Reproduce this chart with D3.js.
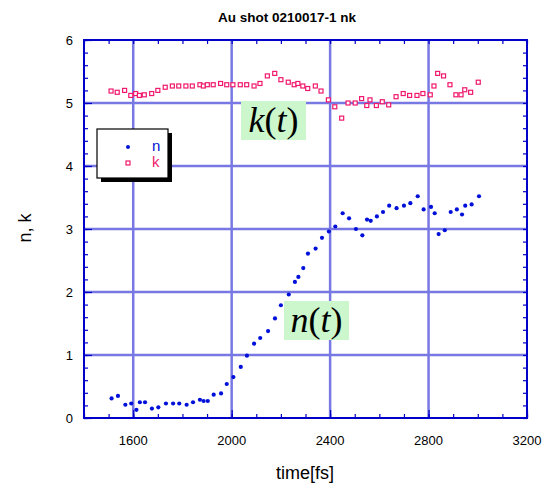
<!DOCTYPE html>
<html>
<head>
<meta charset="utf-8">
<script src="https://cdn.jsdelivr.net/npm/d3@7"></script>
<style>
    body { margin: 0; background: white; }
    text { font-family: "Liberation Sans", Arial, sans-serif; }
</style>
</head>
<body>
<div id="chart"></div>
<script>
// n(t) readings
let nTime = [1512, 1538, 1568, 1592, 1613, 1627, 1648, 1676, 1702, 1733, 1762, 1787, 1817, 1843, 1871, 1886, 1903, 1927, 1957, 1980,
    2007, 2037, 2062, 2091, 2116, 2148, 2176, 2200, 2232, 2257, 2271, 2291, 2310, 2341, 2367, 2395, 2421, 2451, 2477, 2505,
    2531, 2550, 2565, 2590, 2615, 2640, 2670, 2700, 2726, 2756, 2780, 2810, 2825, 2841, 2866, 2890, 2915, 2936, 2949, 2975, 3005];
let nValue = [0.31, 0.35, 0.21, 0.23, 0.13, 0.25, 0.25, 0.15, 0.17, 0.23, 0.23, 0.23, 0.21, 0.25, 0.29, 0.27, 0.27, 0.37, 0.39, 0.54,
    0.65, 0.81, 0.99, 1.18, 1.27, 1.38, 1.58, 1.79, 1.96, 2.16, 2.24, 2.38, 2.61, 2.69, 2.86, 2.96, 3.04, 3.25, 3.17, 3.00,
    2.90, 3.15, 3.13, 3.20, 3.27, 3.37, 3.33, 3.37, 3.41, 3.52, 3.31, 3.35, 3.25, 2.92, 2.98, 3.27, 3.31, 3.23, 3.37, 3.39, 3.52];

// k(t) readings
let kTime = [1510, 1535, 1565, 1590, 1610, 1625, 1645, 1675, 1700, 1730, 1759, 1785, 1814, 1840, 1871, 1885, 1901, 1925, 1955, 1980,
    2005, 2035, 2061, 2091, 2115, 2145, 2175, 2200, 2230, 2254, 2269, 2289, 2309, 2340, 2363, 2393, 2419, 2447, 2473, 2502,
    2528, 2549, 2562, 2588, 2612, 2638, 2668, 2697, 2723, 2753, 2777, 2807, 2822, 2837, 2861, 2887, 2911, 2932, 2947, 2971, 3002];
let kValue = [5.19, 5.17, 5.20, 5.12, 5.15, 5.12, 5.13, 5.15, 5.20, 5.25, 5.27, 5.27, 5.27, 5.27, 5.29, 5.27, 5.29, 5.29, 5.31, 5.29,
    5.29, 5.29, 5.29, 5.27, 5.31, 5.43, 5.47, 5.37, 5.33, 5.29, 5.31, 5.27, 5.23, 5.27, 5.19, 5.05, 4.94, 4.76, 5.00, 5.00,
    5.07, 4.96, 5.05, 4.96, 5.02, 4.97, 5.10, 5.15, 5.12, 5.12, 5.15, 5.13, 5.27, 5.47, 5.43, 5.29, 5.13, 5.13, 5.21, 5.17, 5.33];

let xTicks = [1600, 2000, 2400, 2800, 3200];
let yTicks = [0, 1, 2, 3, 4, 5, 6];
let xGrid = [1600, 2000, 2400, 2800];
let yGrid = [1, 2, 3, 4, 5];
let seriesNames = ["n", "k"];

let frameColor = "#0000c8";
let gridColor = "#7878e4";
let nColor = "#0010d8";
let kColor = "#f0186c";

let svg = d3.select("#chart").append("svg")
    .attr("width", 549)
    .attr("height", 484);

let x = d3.scaleLinear().domain([1400, 3200]).range([84, 527]);
let y = d3.scaleLinear().domain([0, 6]).range([418, 40]);

// grid
svg.selectAll(".vgrid")
    .data(xGrid)
    .enter()
    .append("line")
    .attr("x1", d => x(d)).attr("x2", d => x(d))
    .attr("y1", y(6)).attr("y2", y(0))
    .attr("stroke", gridColor)
    .attr("stroke-width", 2.5);

svg.selectAll(".hgrid")
    .data(yGrid)
    .enter()
    .append("line")
    .attr("x1", x(1400)).attr("x2", x(3200))
    .attr("y1", d => y(d)).attr("y2", d => y(d))
    .attr("stroke", gridColor)
    .attr("stroke-width", 2.5);

// ticks, inside on all four sides
let xMinor = d3.range(1400, 3201, 100);
let yMinor = d3.range(0, 6.001, 0.2);

svg.append("g")
    .attr("transform", "translate(0," + y(0) + ")")
    .call(d3.axisTop(x).tickValues(xMinor).tickSize(4).tickFormat(""))
    .call(g => g.select(".domain").remove());
svg.append("g")
    .attr("transform", "translate(0," + y(0) + ")")
    .call(d3.axisTop(x).tickValues(xTicks).tickSize(8).tickFormat(""))
    .call(g => g.select(".domain").remove());
svg.append("g")
    .attr("transform", "translate(0," + y(6) + ")")
    .call(d3.axisBottom(x).tickValues(xMinor).tickSize(4).tickFormat(""))
    .call(g => g.select(".domain").remove());
svg.append("g")
    .attr("transform", "translate(" + x(1400) + ",0)")
    .call(d3.axisRight(y).tickValues(yMinor).tickSize(4).tickFormat(""))
    .call(g => g.select(".domain").remove());
svg.append("g")
    .attr("transform", "translate(" + x(1400) + ",0)")
    .call(d3.axisRight(y).tickValues(yTicks).tickSize(8).tickFormat(""))
    .call(g => g.select(".domain").remove());
svg.append("g")
    .attr("transform", "translate(" + x(3200) + ",0)")
    .call(d3.axisLeft(y).tickValues(yMinor).tickSize(4).tickFormat(""))
    .call(g => g.select(".domain").remove());
svg.selectAll(".tick line").attr("stroke", frameColor).attr("stroke-width", 1.2);

// frame
svg.append("rect")
    .attr("x", x(1400)).attr("y", y(6))
    .attr("width", x(3200) - x(1400))
    .attr("height", y(0) - y(6))
    .attr("fill", "none")
    .attr("stroke", frameColor)
    .attr("stroke-width", 2);

// tick labels
svg.selectAll(".xlab")
    .data(xTicks)
    .enter()
    .append("text")
    .attr("x", d => x(d))
    .attr("y", 445)
    .attr("text-anchor", "middle")
    .attr("font-size", 13)
    .text(d => d);

svg.selectAll(".ylab")
    .data(yTicks)
    .enter()
    .append("text")
    .attr("x", 73)
    .attr("y", d => y(d) + 5)
    .attr("text-anchor", "end")
    .attr("font-size", 13)
    .text(d => d);

// axis titles
svg.append("text")
    .attr("x", 305).attr("y", 479)
    .attr("text-anchor", "middle")
    .attr("font-size", 18)
    .text("time[fs]");

svg.append("text")
    .attr("transform", "translate(31,228) rotate(-90)")
    .attr("text-anchor", "middle")
    .attr("font-size", 18)
    .text("n, k");

svg.append("text")
    .attr("x", 287).attr("y", 22)
    .attr("text-anchor", "middle")
    .attr("font-size", 13.5)
    .attr("font-weight", "bold")
    .text("Au shot 0210017-1 nk");

// annotation boxes
function mathLabel(x0, y0, w, h, letter) {
    svg.append("rect")
        .attr("x", x0).attr("y", y0)
        .attr("width", w).attr("height", h)
        .attr("fill", "#ccf7cc");
    let t = svg.append("text")
        .attr("x", x0 + w / 2).attr("y", y0 + h - 8)
        .attr("text-anchor", "middle")
        .attr("font-size", 36)
        .style("font-family", "'Liberation Serif', 'Times New Roman', serif");
    t.append("tspan").attr("font-style", "italic").text(letter);
    t.append("tspan").text("(");
    t.append("tspan").attr("font-style", "italic").text("t");
    t.append("tspan").text(")");
}
mathLabel(241, 101, 65, 39, "k");
mathLabel(284, 301, 65, 39, "n");

// data
svg.selectAll(".kpt")
    .data(kTime)
    .enter()
    .append("rect")
    .attr("x", (d, i) => x(d) - 2)
    .attr("y", (d, i) => y(kValue[i]) - 2)
    .attr("width", 4).attr("height", 4)
    .attr("fill", "white")
    .attr("stroke", kColor)
    .attr("stroke-width", 1.2);

svg.selectAll(".npt")
    .data(nTime)
    .enter()
    .append("circle")
    .attr("cx", d => x(d))
    .attr("cy", (d, i) => y(nValue[i]))
    .attr("r", 2.1)
    .attr("fill", nColor);

// legend
let legend = svg.append("g").attr("transform", "translate(97,129)");
legend.append("rect")
    .attr("x", 4).attr("y", 4)
    .attr("width", 71).attr("height", 49)
    .attr("fill", "black");
legend.append("rect")
    .attr("width", 71).attr("height", 49)
    .attr("fill", "white")
    .attr("stroke", "black")
    .attr("stroke-width", 1.2);
legend.append("circle")
    .attr("cx", 31).attr("cy", 18).attr("r", 2)
    .attr("fill", nColor);
legend.append("rect")
    .attr("x", 29).attr("y", 32).attr("width", 4).attr("height", 4)
    .attr("fill", "white").attr("stroke", kColor).attr("stroke-width", 1.2);
legend.selectAll(".legtext")
    .data(seriesNames)
    .enter()
    .append("text")
    .attr("x", 55)
    .attr("y", (d, i) => 22 + i * 16)
    .attr("font-size", 15)
    .attr("fill", (d, i) => i == 0 ? nColor : kColor)
    .text(d => d);
</script>
</body>
</html>
